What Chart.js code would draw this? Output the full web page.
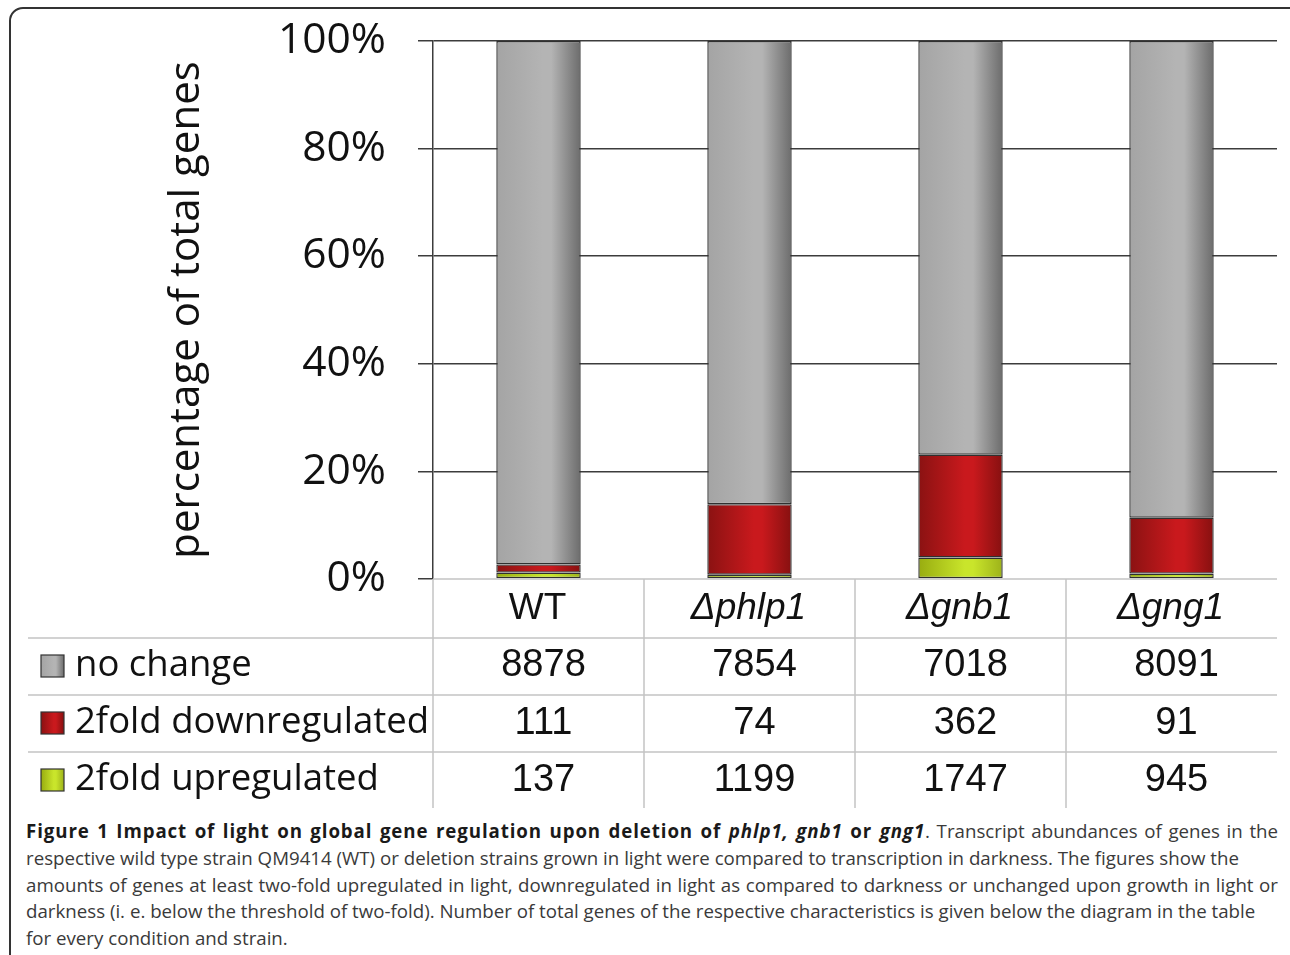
<!DOCTYPE html>
<html>
<head>
<meta charset="utf-8">
<script src="https://cdn.jsdelivr.net/npm/chart.js@4.4.1/dist/chart.umd.min.js"></script>
<style>
  body { margin: 0; background: #fff; width: 1290px; height: 955px; overflow: hidden; position: relative; }
  #frame { position: absolute; left: 9px; top: 7px; width: 1300px; height: 1000px; border: 2px solid #333; border-radius: 14px; }
  #chartBox { position: absolute; left: 0; top: 0; width: 1290px; height: 812px; }
  #caption { position: absolute; left: 26px; top: 818px; font-family: "Open Sans", sans-serif; font-size: 18.7px; line-height: 26.8px; color: #3a3a3a; }
  #caption div { white-space: nowrap; }
  #caption .j { width: 1252px; text-align: justify; text-align-last: justify; }
  #caption b { color: #1a1a1a; letter-spacing: 0.9px; }
</style>
</head>
<body>
<div id="frame"></div>
<div id="chartBox"><canvas id="geneChart" width="1290" height="812"></canvas></div>
<div id="caption">
  <div class="j"><b>Figure 1 Impact of light on global gene regulation upon deletion of <i>phlp1, gnb1</i> or <i>gng1</i></b>. Transcript abundances of genes in the</div>
  <div>respective wild type strain QM9414 (WT) or deletion strains grown in light were compared to transcription in darkness. The figures show the</div>
  <div class="j">amounts of genes at least two-fold upregulated in light, downregulated in light as compared to darkness or unchanged upon growth in light or</div>
  <div>darkness (i. e. below the threshold of two-fold). Number of total genes of the respective characteristics is given below the diagram in the table</div>
  <div>for every condition and strain.</div>
</div>
<script>
const strains = ['WT', 'Δphlp1', 'Δgnb1', 'Δgng1'];
const yTicks = [0, 20, 40, 60, 80, 100];

// bar heights (% of total genes)
const greenPct = [1.2, 0.8, 4.0, 1.0];
const redPct = [1.5, 13.1, 19.1, 10.4];
const greyPct = [97.3, 86.1, 76.9, 88.6];

// table below the chart
const rowLabels = ['no change', '2fold downregulated', '2fold upregulated'];
const noChange = [8878, 7854, 7018, 8091];
const down = [111, 74, 362, 91];
const up = [137, 1199, 1747, 945];

const greyStops = ['#a4a4a4', '#b4b4b4', '#6c6c6c'];
const redStops = ['#8a1212', '#c9191d', '#861010'];
const greenStops = ['#98ac10', '#c9e52b', '#9db21a'];

function makeGrad(ctx, x0, x1, stops) {
    const g = ctx.createLinearGradient(x0, 0, x1, 0);
    g.addColorStop(0, stops[0]);
    g.addColorStop(0.55, stops[1]);
    g.addColorStop(0.65, stops[1]);
    g.addColorStop(1, stops[2]);
    return g;
}

function barFill(stops) {
    return function(c) {
        const chart = c.chart;
        const xs = chart.scales.x;
        if (!xs || c.dataIndex === undefined || !xs.width) return stops[1];
        const cx = xs.getPixelForValue(c.dataIndex);
        const w = xs.width / strains.length * 0.4;
        return makeGrad(chart.ctx, cx - w / 2, cx + w / 2, stops);
    };
}

const tablePlugin = {
    id: 'table',
    afterDraw(chart) {
        const ctx = chart.ctx;
        const xs = chart.scales.x;
        const area = chart.chartArea;
        const colW = xs.width / strains.length;
        const rowTop = [579, 638, 695, 752, 808];
        ctx.save();
        ctx.strokeStyle = '#c4c4c4';
        ctx.lineWidth = 1.5;
        ctx.beginPath();
        ctx.moveTo(area.left, area.bottom);
        ctx.lineTo(area.right, area.bottom);
        for (let r = 1; r < 4; r++) {
            ctx.moveTo(28, rowTop[r]);
            ctx.lineTo(area.right, rowTop[r]);
        }
        for (let i = 0; i < strains.length; i++) {
            const lx = area.left + i * colW;
            ctx.moveTo(lx, area.bottom);
            ctx.lineTo(lx, rowTop[4]);
        }
        ctx.stroke();

        ctx.fillStyle = '#111';
        ctx.textAlign = 'center';
        ctx.textBaseline = 'middle';
        strains.forEach((s, i) => {
            const cx = xs.getPixelForValue(i);
            ctx.font = (s === 'WT' ? '' : 'italic ') + '37px "Liberation Sans", Arial, sans-serif';
            ctx.fillText(s, cx - 1, 609);
            ctx.font = '38px "Liberation Sans", Arial, sans-serif';
            ctx.fillText(String(noChange[i]), cx + 5, 666);
            ctx.fillText(String(down[i]), cx + 5, 724);
            ctx.fillText(String(up[i]), cx + 5, 781);
        });

        const keyStops = [greyStops, redStops, greenStops];
        const keyY = [666, 723, 780];
        ctx.textAlign = 'left';
        ctx.font = '36.5px "Open Sans", sans-serif';
        rowLabels.forEach((lab, r) => {
            const y = keyY[r];
            ctx.fillStyle = makeGrad(ctx, 41, 64, keyStops[r]);
            ctx.fillRect(41, y - 11, 23, 22);
            ctx.strokeStyle = '#333';
            ctx.lineWidth = 1.2;
            ctx.strokeRect(41, y - 11, 23, 22);
            ctx.fillStyle = '#111';
            ctx.fillText(lab, 75, y);
        });
        ctx.restore();
    }
};

const chart = new Chart(document.getElementById('geneChart'), {
    type: 'bar',
    data: {
        labels: strains,
        datasets: [
            { label: '2fold upregulated', data: greenPct, backgroundColor: barFill(greenStops) },
            { label: '2fold downregulated', data: redPct, backgroundColor: barFill(redStops) },
            { label: 'no change', data: greyPct, backgroundColor: barFill(greyStops) }
        ]
    },
    options: {
        responsive: false,
        animation: false,
        devicePixelRatio: 1,
        layout: { autoPadding: false, padding: { left: 0, right: 13, top: 41, bottom: 233 } },
        datasets: {
            bar: {
                categoryPercentage: 0.4,
                barPercentage: 1.0,
                borderColor: '#303030',
                borderWidth: 1.4,
                borderSkipped: false
            }
        },
        plugins: {
            legend: { display: false },
            tooltip: { enabled: false }
        },
        scales: {
            x: {
                stacked: true,
                display: false
            },
            y: {
                stacked: true,
                min: 0,
                max: 100,
                afterBuildTicks: s => { s.ticks = yTicks.map(v => ({ value: v })); },
                afterFit: s => { s.width = 433; s.paddingTop = 0; s.paddingBottom = 0; },
                ticks: {
                    callback: v => v + '%',
                    padding: 32,
                    color: '#111',
                    font: { family: 'Open Sans', size: 42.5 }
                },
                grid: {
                    color: c => c.tick && c.tick.value === 0 ? 'rgba(0,0,0,0)' : '#3c3c3c',
                    tickColor: '#3c3c3c',
                    tickLength: 15,
                    lineWidth: 1.5
                },
                border: { color: '#3c3c3c', width: 1.5 },
                title: {
                    display: true,
                    text: 'percentage of total genes',
                    color: '#111',
                    font: { family: 'Open Sans', size: 42 },
                    padding: { top: 162, bottom: 0 }
                }
            }
        }
    },
    plugins: [tablePlugin]
});
</script>
</body>
</html>
